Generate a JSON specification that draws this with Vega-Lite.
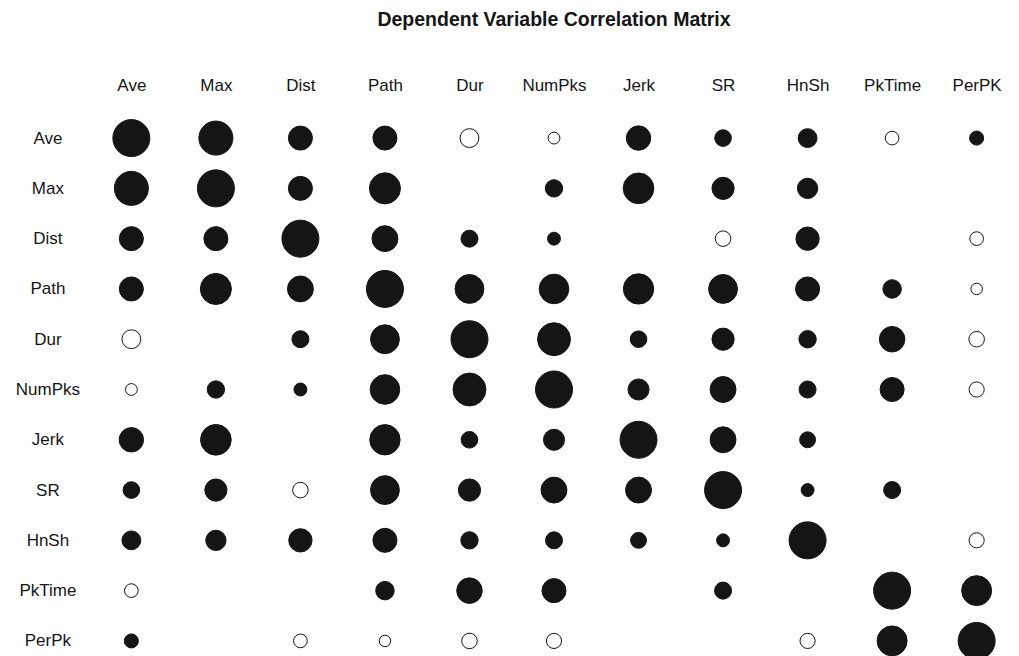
{
  "$schema": "https://vega.github.io/schema/vega-lite/v6.json",
  "width": 896,
  "height": 533,
  "autosize": "none",
  "padding": {"left": 106, "top": 123, "right": 0, "bottom": 0},
  "background": "white",
  "config": {"view": {"stroke": null}, "font": "Liberation Sans"},
  "title": {
    "text": "Dependent Variable Correlation Matrix",
    "font": "Liberation Sans",
    "fontSize": 19.5,
    "fontWeight": "bold",
    "color": "#151515",
    "anchor": "middle",
    "frame": "group",
    "offset": 46
  },
  "data": {
    "values": [
      {"row": "Ave", "col": "Ave", "r": 1, "sign": "positive"},
      {"row": "Ave", "col": "Max", "r": 0.92, "sign": "positive"},
      {"row": "Ave", "col": "Dist", "r": 0.65, "sign": "positive"},
      {"row": "Ave", "col": "Path", "r": 0.65, "sign": "positive"},
      {"row": "Ave", "col": "Dur", "r": 0.51, "sign": "negative"},
      {"row": "Ave", "col": "NumPks", "r": 0.32, "sign": "negative"},
      {"row": "Ave", "col": "Jerk", "r": 0.66, "sign": "positive"},
      {"row": "Ave", "col": "SR", "r": 0.45, "sign": "positive"},
      {"row": "Ave", "col": "HnSh", "r": 0.51, "sign": "positive"},
      {"row": "Ave", "col": "PkTime", "r": 0.37, "sign": "negative"},
      {"row": "Ave", "col": "PerPK", "r": 0.38, "sign": "positive"},

      {"row": "Max", "col": "Ave", "r": 0.92, "sign": "positive"},
      {"row": "Max", "col": "Max", "r": 1, "sign": "positive"},
      {"row": "Max", "col": "Dist", "r": 0.65, "sign": "positive"},
      {"row": "Max", "col": "Path", "r": 0.84, "sign": "positive"},
      {"row": "Max", "col": "NumPks", "r": 0.47, "sign": "positive"},
      {"row": "Max", "col": "Jerk", "r": 0.83, "sign": "positive"},
      {"row": "Max", "col": "SR", "r": 0.6, "sign": "positive"},
      {"row": "Max", "col": "HnSh", "r": 0.55, "sign": "positive"},

      {"row": "Dist", "col": "Ave", "r": 0.65, "sign": "positive"},
      {"row": "Dist", "col": "Max", "r": 0.65, "sign": "positive"},
      {"row": "Dist", "col": "Dist", "r": 1, "sign": "positive"},
      {"row": "Dist", "col": "Path", "r": 0.7, "sign": "positive"},
      {"row": "Dist", "col": "Dur", "r": 0.46, "sign": "positive"},
      {"row": "Dist", "col": "NumPks", "r": 0.35, "sign": "positive"},
      {"row": "Dist", "col": "SR", "r": 0.42, "sign": "negative"},
      {"row": "Dist", "col": "HnSh", "r": 0.63, "sign": "positive"},
      {"row": "Dist", "col": "PerPK", "r": 0.37, "sign": "negative"},

      {"row": "Path", "col": "Ave", "r": 0.65, "sign": "positive"},
      {"row": "Path", "col": "Max", "r": 0.84, "sign": "positive"},
      {"row": "Path", "col": "Dist", "r": 0.7, "sign": "positive"},
      {"row": "Path", "col": "Path", "r": 1, "sign": "positive"},
      {"row": "Path", "col": "Dur", "r": 0.78, "sign": "positive"},
      {"row": "Path", "col": "NumPks", "r": 0.8, "sign": "positive"},
      {"row": "Path", "col": "Jerk", "r": 0.82, "sign": "positive"},
      {"row": "Path", "col": "SR", "r": 0.78, "sign": "positive"},
      {"row": "Path", "col": "HnSh", "r": 0.65, "sign": "positive"},
      {"row": "Path", "col": "PkTime", "r": 0.5, "sign": "positive"},
      {"row": "Path", "col": "PerPK", "r": 0.31, "sign": "negative"},

      {"row": "Dur", "col": "Ave", "r": 0.51, "sign": "negative"},
      {"row": "Dur", "col": "Dist", "r": 0.46, "sign": "positive"},
      {"row": "Dur", "col": "Path", "r": 0.78, "sign": "positive"},
      {"row": "Dur", "col": "Dur", "r": 1, "sign": "positive"},
      {"row": "Dur", "col": "NumPks", "r": 0.89, "sign": "positive"},
      {"row": "Dur", "col": "Jerk", "r": 0.45, "sign": "positive"},
      {"row": "Dur", "col": "SR", "r": 0.6, "sign": "positive"},
      {"row": "Dur", "col": "HnSh", "r": 0.47, "sign": "positive"},
      {"row": "Dur", "col": "PkTime", "r": 0.69, "sign": "positive"},
      {"row": "Dur", "col": "PerPK", "r": 0.42, "sign": "negative"},

      {"row": "NumPks", "col": "Ave", "r": 0.32, "sign": "negative"},
      {"row": "NumPks", "col": "Max", "r": 0.47, "sign": "positive"},
      {"row": "NumPks", "col": "Dist", "r": 0.35, "sign": "positive"},
      {"row": "NumPks", "col": "Path", "r": 0.8, "sign": "positive"},
      {"row": "NumPks", "col": "Dur", "r": 0.89, "sign": "positive"},
      {"row": "NumPks", "col": "NumPks", "r": 1, "sign": "positive"},
      {"row": "NumPks", "col": "Jerk", "r": 0.57, "sign": "positive"},
      {"row": "NumPks", "col": "SR", "r": 0.7, "sign": "positive"},
      {"row": "NumPks", "col": "HnSh", "r": 0.46, "sign": "positive"},
      {"row": "NumPks", "col": "PkTime", "r": 0.65, "sign": "positive"},
      {"row": "NumPks", "col": "PerPK", "r": 0.41, "sign": "negative"},

      {"row": "Jerk", "col": "Ave", "r": 0.66, "sign": "positive"},
      {"row": "Jerk", "col": "Max", "r": 0.83, "sign": "positive"},
      {"row": "Jerk", "col": "Path", "r": 0.82, "sign": "positive"},
      {"row": "Jerk", "col": "Dur", "r": 0.45, "sign": "positive"},
      {"row": "Jerk", "col": "NumPks", "r": 0.57, "sign": "positive"},
      {"row": "Jerk", "col": "Jerk", "r": 1, "sign": "positive"},
      {"row": "Jerk", "col": "SR", "r": 0.7, "sign": "positive"},
      {"row": "Jerk", "col": "HnSh", "r": 0.43, "sign": "positive"},

      {"row": "SR", "col": "Ave", "r": 0.45, "sign": "positive"},
      {"row": "SR", "col": "Max", "r": 0.6, "sign": "positive"},
      {"row": "SR", "col": "Dist", "r": 0.42, "sign": "negative"},
      {"row": "SR", "col": "Path", "r": 0.78, "sign": "positive"},
      {"row": "SR", "col": "Dur", "r": 0.6, "sign": "positive"},
      {"row": "SR", "col": "NumPks", "r": 0.7, "sign": "positive"},
      {"row": "SR", "col": "Jerk", "r": 0.7, "sign": "positive"},
      {"row": "SR", "col": "SR", "r": 1, "sign": "positive"},
      {"row": "SR", "col": "HnSh", "r": 0.35, "sign": "positive"},
      {"row": "SR", "col": "PkTime", "r": 0.46, "sign": "positive"},

      {"row": "HnSh", "col": "Ave", "r": 0.51, "sign": "positive"},
      {"row": "HnSh", "col": "Max", "r": 0.55, "sign": "positive"},
      {"row": "HnSh", "col": "Dist", "r": 0.63, "sign": "positive"},
      {"row": "HnSh", "col": "Path", "r": 0.65, "sign": "positive"},
      {"row": "HnSh", "col": "Dur", "r": 0.47, "sign": "positive"},
      {"row": "HnSh", "col": "NumPks", "r": 0.46, "sign": "positive"},
      {"row": "HnSh", "col": "Jerk", "r": 0.43, "sign": "positive"},
      {"row": "HnSh", "col": "SR", "r": 0.35, "sign": "positive"},
      {"row": "HnSh", "col": "HnSh", "r": 1, "sign": "positive"},
      {"row": "HnSh", "col": "PerPK", "r": 0.41, "sign": "negative"},

      {"row": "PkTime", "col": "Ave", "r": 0.37, "sign": "negative"},
      {"row": "PkTime", "col": "Path", "r": 0.5, "sign": "positive"},
      {"row": "PkTime", "col": "Dur", "r": 0.69, "sign": "positive"},
      {"row": "PkTime", "col": "NumPks", "r": 0.65, "sign": "positive"},
      {"row": "PkTime", "col": "SR", "r": 0.46, "sign": "positive"},
      {"row": "PkTime", "col": "PkTime", "r": 1, "sign": "positive"},
      {"row": "PkTime", "col": "PerPK", "r": 0.81, "sign": "positive"},

      {"row": "PerPk", "col": "Ave", "r": 0.38, "sign": "positive"},
      {"row": "PerPk", "col": "Dist", "r": 0.37, "sign": "negative"},
      {"row": "PerPk", "col": "Path", "r": 0.31, "sign": "negative"},
      {"row": "PerPk", "col": "Dur", "r": 0.42, "sign": "negative"},
      {"row": "PerPk", "col": "NumPks", "r": 0.41, "sign": "negative"},
      {"row": "PerPk", "col": "HnSh", "r": 0.41, "sign": "negative"},
      {"row": "PerPk", "col": "PkTime", "r": 0.81, "sign": "positive"},
      {"row": "PerPk", "col": "PerPK", "r": 1, "sign": "positive"}
    ]
  },
  "mark": {
    "type": "point",
    "shape": "circle",
    "opacity": 1,
    "fillOpacity": 1,
    "stroke": "#151515",
    "strokeWidth": 1
  },
  "encoding": {
    "x": {
      "field": "col",
      "type": "nominal",
      "scale": {
        "type": "point",
        "padding": 0.3,
        "domain": ["Ave", "Max", "Dist", "Path", "Dur", "NumPks", "Jerk", "SR", "HnSh", "PkTime", "PerPK"]
      },
      "axis": {
        "orient": "top",
        "title": null,
        "ticks": false,
        "domain": false,
        "grid": false,
        "labelAngle": 0,
        "labelFont": "Liberation Sans",
        "labelFontSize": 17,
        "labelColor": "#151515",
        "labelPadding": 29
      }
    },
    "y": {
      "field": "row",
      "type": "nominal",
      "scale": {
        "type": "point",
        "padding": 0.3,
        "domain": ["Ave", "Max", "Dist", "Path", "Dur", "NumPks", "Jerk", "SR", "HnSh", "PkTime", "PerPk"]
      },
      "axis": {
        "orient": "left",
        "title": null,
        "ticks": false,
        "domain": false,
        "grid": false,
        "labelAlign": "center",
        "labelBaseline": "middle",
        "labelFont": "Liberation Sans",
        "labelFontSize": 17,
        "labelColor": "#151515",
        "labelPadding": 58.6
      }
    },
    "size": {
      "field": "r",
      "type": "quantitative",
      "scale": {"type": "pow", "exponent": 2, "domain": [0, 1], "range": [0, 1369]},
      "legend": null
    },
    "fill": {
      "field": "sign",
      "type": "nominal",
      "scale": {"domain": ["positive", "negative"], "range": ["#151515", "#ffffff"]},
      "legend": null
    }
  }
}
